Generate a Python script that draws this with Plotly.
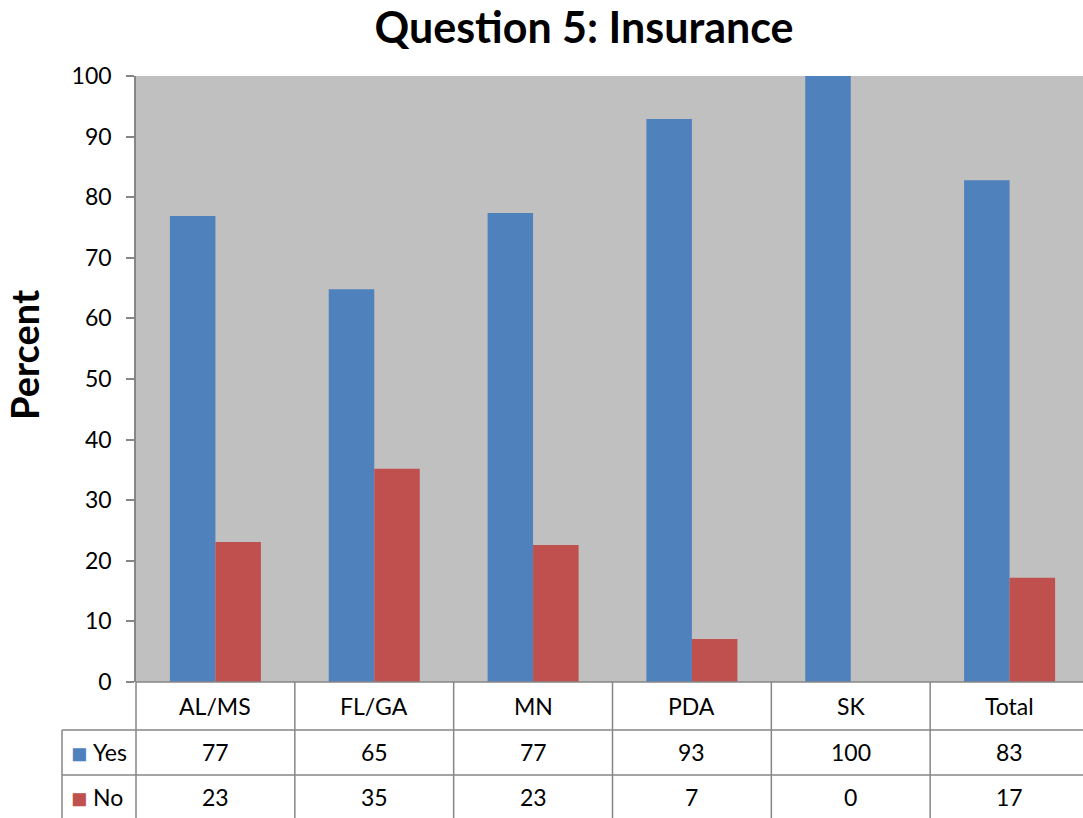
import plotly.graph_objects as go

categories = ["AL/MS", "FL/GA", "MN", "PDA", "SK", "Total"]
yes_values = [76.9, 64.8, 77.4, 92.9, 100.0, 82.8]
no_values = [23.1, 35.2, 22.6, 7.1, 0.0, 17.2]
series_names = ["Yes", "No"]
series_colors = ["#4F81BD", "#C0504D"]
y_ticks = list(range(0, 101, 10))

FONT = "Lato"
W, H = 1089, 818
ML, MR, MT, MB = 136, 0, 76, 136
PW, PH = W - ML - MR, H - MT - MB

def py(pix):
    return (H - MB - pix) / PH

def px(pix):
    return (pix - ML) / PW

fig = go.Figure()
for name, vals, col in zip(series_names, [yes_values, no_values], series_colors):
    fig.add_trace(go.Bar(x=categories, y=vals, name=name, marker=dict(color=col, line=dict(width=0)),
                         showlegend=False))

fig.update_layout(
    width=W, height=H,
    margin=dict(l=ML, r=MR, t=MT, b=MB),
    paper_bgcolor="white", plot_bgcolor="#C0C0C0",
    barmode="group", bargap=0.427, bargroupgap=0,
    font=dict(family=FONT, color="black"),
    title=dict(text="<b>Question 5: Insurance</b>", font=dict(family=FONT, size=43, color="black"),
               x=px(584), xref="paper", xanchor="center", y=1 - 28 / H, yanchor="middle"),
    xaxis=dict(range=[-0.5, 5.5], showticklabels=False, ticks="", showline=False, showgrid=False,
               zeroline=False, fixedrange=True),
    yaxis=dict(range=[0, 100], tickvals=y_ticks, ticks="outside", ticklen=8, tickcolor="#868686",
               tickwidth=1.5, showline=True, linecolor="#868686", linewidth=1.5, showgrid=False,
               zeroline=False, tickfont=dict(size=23, family=FONT, color="black"), ticklabelstandoff=10),
)

line = dict(color="#868686", width=1.5)
shapes = []
shapes.append(dict(type="line", xref="x domain", yref="paper", x0=0, x1=1, y0=0, y1=0, line=line))
for k in range(7):
    shapes.append(dict(type="line", xref="x domain", yref="paper", x0=k / 6, x1=k / 6,
                       y0=0, y1=py(H + 2), line=line))
left_col = px(62)
shapes.append(dict(type="line", xref="paper", yref="paper", x0=left_col, x1=left_col,
                   y0=py(730), y1=py(H + 2), line=line))
for yy in [730, 775]:
    shapes.append(dict(type="line", xref="paper", yref="paper", x0=left_col, x1=1, y0=py(yy), y1=py(yy), line=line))
fig.update_layout(shapes=shapes)

ann = []
for c in categories:
    ann.append(dict(x=c, xref="x", y=py(706), yref="paper", text=c, showarrow=False,
                    font=dict(size=23, family=FONT, color="black"), xanchor="center", yanchor="middle"))
row_centers = [752, 797]
for vals, rc in zip([yes_values, no_values], row_centers):
    for c, v in zip(categories, vals):
        ann.append(dict(x=c, xref="x", y=py(rc), yref="paper", text=str(int(round(v))), showarrow=False,
                        font=dict(size=23, family=FONT, color="black"), xanchor="center", yanchor="middle"))
for name, col, rc in zip(series_names, series_colors, row_centers):
    ann.append(dict(x=px(69), xref="paper", y=py(rc), yref="paper", text="■",
                    showarrow=False, font=dict(size=27, family=FONT, color=col),
                    xanchor="left", yanchor="middle"))
    ann.append(dict(x=px(91), xref="paper", y=py(rc), yref="paper", text=name,
                    showarrow=False, font=dict(size=23, family=FONT, color="black"),
                    xanchor="left", yanchor="middle"))
ann.append(dict(x=px(24), xref="paper", y=py(355), yref="paper", text="<b>Percent</b>", textangle=-90,
                showarrow=False, font=dict(size=38, family=FONT, color="black"),
                xanchor="center", yanchor="middle"))
fig.update_layout(annotations=ann)

fig.write_html("out.html", config={"displayModeBar": False},
               post_script="document.body.style.margin='0';document.body.style.overflow='hidden';")
